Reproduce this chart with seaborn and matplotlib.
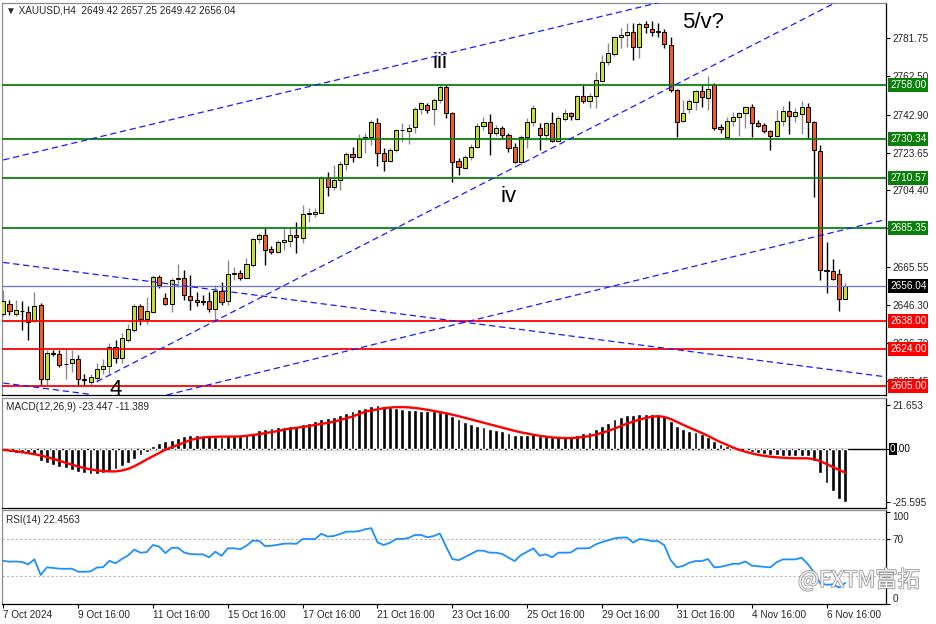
import numpy as np
import matplotlib
matplotlib.use('Agg')
import matplotlib.pyplot as plt
import matplotlib.patheffects as pe
import matplotlib.transforms as mtransforms
import seaborn as sns

sns.set_style('white')
plt.rcParams['font.family'] = ['Liberation Sans', 'DejaVu Sans']

# XAUUSD H4 candles
opens = [2641.5, 2646.7, 2641.6, 2643.3, 2642.8, 2638.2, 2646.2, 2608.4, 2621.5, 2621.2,
         2616.0, 2616.5, 2618.5, 2608.6, 2606.9, 2608.9, 2613.4, 2615.1, 2625.0, 2619.1,
         2628.4, 2633.4, 2645.4, 2639.0, 2642.8, 2660.5, 2649.6, 2646.7, 2659.5, 2659.7,
         2650.9, 2648.7, 2648.4, 2648.2, 2644.0, 2653.3, 2648.2, 2662.0, 2662.3, 2660.1,
         2666.5, 2679.5, 2681.7, 2674.5, 2673.3, 2678.0, 2678.7, 2681.7, 2680.4, 2692.6,
         2692.6, 2693.1, 2710.6, 2706.3, 2709.7, 2717.8, 2722.8, 2721.6, 2730.5, 2731.7,
         2738.8, 2723.6, 2719.4, 2725.0, 2735.0, 2734.8, 2736.5, 2745.6, 2747.7, 2745.6,
         2750.4, 2757.2, 2743.6, 2719.4, 2716.0, 2721.3, 2726.7, 2737.2, 2739.3, 2733.8,
         2736.3, 2732.6, 2726.7, 2719.0, 2731.7, 2739.3, 2736.0, 2732.6, 2738.5, 2729.5,
         2740.7, 2743.6, 2740.7, 2752.4, 2750.0, 2752.6, 2760.0, 2769.9, 2773.8, 2782.2,
         2783.4, 2785.0, 2777.5, 2789.0, 2786.3, 2785.3, 2785.1, 2778.3, 2755.5, 2739.7,
         2745.8, 2749.5, 2755.1, 2751.6, 2758.0, 2736.5, 2731.4, 2739.9, 2741.6, 2743.6,
         2747.0, 2738.9, 2737.7, 2734.6, 2732.3, 2739.9, 2744.8, 2742.2, 2743.3, 2747.0,
         2739.0, 2724.7, 2664.0, 2663.6, 2661.8, 2649.42]
highs = [2653.8, 2648.7, 2648.7, 2648.0, 2645.4, 2652.8, 2647.4, 2623.3, 2623.3, 2623.3,
         2623.6, 2623.3, 2620.7, 2611.1, 2611.1, 2616.5, 2618.5, 2627.0, 2628.4, 2631.8,
         2636.5, 2646.7, 2646.7, 2650.4, 2661.4, 2661.4, 2652.1, 2659.7, 2666.8, 2663.9,
         2661.4, 2652.8, 2651.0, 2652.8, 2656.3, 2658.0, 2669.0, 2665.6, 2664.0, 2669.9,
         2680.0, 2682.9, 2685.1, 2676.0, 2679.0, 2685.1, 2685.1, 2688.5, 2697.0, 2695.3,
         2695.5, 2711.7, 2713.9, 2717.3, 2719.5, 2724.0, 2726.6, 2733.0, 2733.7, 2740.2,
         2741.1, 2725.8, 2726.0, 2735.6, 2738.5, 2738.0, 2747.0, 2749.4, 2748.7, 2751.2,
         2758.0, 2758.0, 2744.4, 2720.7, 2722.5, 2728.0, 2738.5, 2741.9, 2743.3, 2737.8,
         2737.0, 2733.7, 2728.4, 2732.6, 2741.1, 2748.0, 2738.9, 2739.3, 2744.4, 2742.0,
         2746.0, 2744.5, 2753.0, 2758.0, 2753.8, 2764.8, 2773.3, 2779.2, 2783.0, 2786.8,
         2789.7, 2789.4, 2790.2, 2790.7, 2790.7, 2789.4, 2786.7, 2782.6, 2756.0, 2750.4,
         2751.0, 2755.5, 2758.0, 2762.6, 2758.8, 2738.0, 2741.6, 2744.4, 2744.4, 2747.3,
         2748.3, 2740.1, 2738.5, 2735.1, 2745.3, 2747.3, 2750.0, 2746.5, 2750.0, 2748.7,
         2739.7, 2727.5, 2678.3, 2669.4, 2664.3, 2657.25]
lows = [2640.4, 2641.1, 2640.8, 2633.4, 2628.4, 2637.7, 2605.5, 2605.5, 2620.0, 2614.8,
        2608.4, 2612.3, 2605.5, 2605.5, 2605.5, 2607.2, 2611.1, 2611.1, 2616.5, 2616.5,
        2627.5, 2632.6, 2636.0, 2636.5, 2642.0, 2654.7, 2646.2, 2642.8, 2655.5, 2648.7,
        2643.6, 2645.4, 2646.2, 2642.8, 2637.7, 2646.0, 2646.2, 2658.9, 2658.9, 2659.7,
        2665.6, 2677.5, 2666.5, 2672.0, 2672.8, 2674.1, 2675.6, 2672.4, 2677.8, 2688.5,
        2691.0, 2692.8, 2701.6, 2704.6, 2704.6, 2714.6, 2719.0, 2720.7, 2723.3, 2727.5,
        2716.8, 2714.3, 2718.7, 2723.8, 2729.2, 2728.0, 2733.8, 2743.3, 2743.8, 2737.7,
        2748.7, 2741.1, 2708.8, 2712.2, 2715.5, 2720.0, 2725.9, 2735.1, 2722.4, 2732.0,
        2731.0, 2723.8, 2718.5, 2717.3, 2725.8, 2737.0, 2725.0, 2730.0, 2729.2, 2729.0,
        2739.7, 2740.0, 2740.0, 2748.7, 2746.2, 2746.2, 2759.5, 2768.2, 2772.7, 2776.7,
        2777.5, 2770.7, 2771.6, 2784.3, 2783.0, 2782.6, 2777.0, 2754.6, 2731.7, 2739.3,
        2744.0, 2745.3, 2747.0, 2745.3, 2735.1, 2733.4, 2730.9, 2737.2, 2732.1, 2736.0,
        2731.7, 2736.6, 2733.5, 2725.0, 2731.7, 2737.2, 2733.1, 2739.3, 2733.0, 2730.9,
        2701.2, 2658.9, 2652.1, 2658.9, 2643.3, 2649.42]
closes = [2648.3, 2643.2, 2643.5, 2643.0, 2637.7, 2645.9, 2608.4, 2621.6, 2621.0, 2615.6,
          2616.2, 2618.5, 2608.4, 2608.2, 2609.4, 2613.4, 2615.0, 2625.0, 2619.1, 2629.2,
          2633.8, 2645.9, 2639.0, 2643.0, 2660.5, 2656.3, 2646.7, 2658.9, 2659.9, 2651.2,
          2648.7, 2647.5, 2647.9, 2644.0, 2653.3, 2647.9, 2661.8, 2662.4, 2660.1, 2666.8,
          2679.5, 2681.7, 2674.1, 2673.3, 2678.0, 2679.2, 2681.7, 2680.6, 2692.4, 2692.9,
          2693.2, 2710.9, 2706.3, 2709.7, 2717.8, 2722.8, 2721.6, 2730.5, 2731.7, 2739.3,
          2723.3, 2719.4, 2725.0, 2735.1, 2735.3, 2736.4, 2745.6, 2748.7, 2745.3, 2750.4,
          2756.8, 2743.7, 2719.0, 2716.2, 2721.6, 2726.7, 2737.2, 2739.3, 2733.8, 2736.3,
          2732.6, 2726.2, 2719.0, 2731.7, 2739.3, 2746.5, 2732.6, 2738.5, 2729.5, 2741.1,
          2743.6, 2742.4, 2752.4, 2750.0, 2752.6, 2760.5, 2769.8, 2774.1, 2782.3, 2783.4,
          2785.0, 2777.5, 2789.0, 2787.4, 2784.8, 2784.9, 2778.7, 2755.5, 2739.3, 2744.0,
          2750.0, 2755.1, 2751.7, 2755.8, 2736.0, 2735.5, 2739.9, 2741.6, 2744.0, 2747.0,
          2738.5, 2737.2, 2734.6, 2732.3, 2739.9, 2744.8, 2742.2, 2744.4, 2747.0, 2739.3,
          2725.0, 2664.0, 2663.4, 2659.4, 2649.0, 2656.04]

# MACD(12,26,9) histogram and signal line
macd_hist = [-1.0, -1.3, -1.7, -2.0, -2.4, -2.9, -5.5, -6.8, -7.6, -8.5,
             -9.2, -10.0, -11.0, -11.8, -12.2, -12.2, -11.6, -10.6, -9.6, -8.2,
             -6.8, -4.8, -2.7, -1.3, 1.5, 3.0, 3.9, 4.5, 5.6, 6.7,
             7.0, 6.8, 6.5, 6.3, 6.2, 6.2, 6.4, 6.6, 6.7, 6.9,
             8.2, 9.4, 10.0, 10.4, 10.9, 11.1, 11.3, 11.4, 12.3, 13.0,
             13.6, 14.8, 15.5, 16.0, 16.8, 17.6, 18.6, 19.5, 20.3, 21.0,
             21.6, 21.3, 20.6, 20.0, 19.6, 19.3, 19.0, 18.8, 18.6, 18.6,
             18.4, 18.0, 16.4, 14.8, 13.4, 12.2, 11.6, 10.9, 10.1, 9.4,
             8.7, 7.9, 7.0, 6.9, 7.0, 7.4, 6.7, 6.4, 6.0, 5.9,
             6.1, 6.3, 7.2, 7.9, 8.6, 9.9, 11.4, 12.9, 14.6, 15.8,
             16.6, 16.8, 17.4, 17.4, 17.2, 16.9, 16.4, 14.0, 11.5, 9.9,
             8.9, 8.4, 7.5, 6.0, 4.0, 2.6, 1.8, 0.9, 0.2, -0.5,
             -1.1, -1.6, -2.1, -2.7, -3.0, -3.3, -3.4, -3.4, -3.2, -3.5,
             -5.5, -11.7, -16.6, -20.2, -24.4, -25.6]
macd_signal = [-0.3, -0.6, -1.0, -1.4, -1.9, -2.4, -3.0, -3.8, -4.7, -5.6,
               -6.6, -7.5, -8.4, -9.2, -9.8, -10.3, -10.6, -10.8, -10.8, -10.4,
               -9.6, -8.3, -6.7, -5.0, -3.4, -1.8, -0.2, 1.1, 2.1, 3.3,
               4.5, 5.3, 5.8, 6.0, 6.1, 6.2, 6.2, 6.2, 6.3, 6.6,
               7.0, 7.4, 7.9, 8.4, 8.9, 9.6, 10.1, 10.5, 10.9, 11.4,
               11.9, 12.4, 12.9, 13.5, 14.3, 15.2, 16.0, 17.2, 18.4, 19.0,
               19.5, 20.1, 20.4, 20.6, 20.6, 20.5, 20.2, 19.8, 19.3, 18.8,
               18.2, 17.6, 16.9, 16.2, 15.4, 14.6, 13.8, 13.0, 12.2, 11.4,
               10.6, 9.8, 9.0, 8.3, 7.7, 7.1, 6.6, 6.2, 5.8, 5.6,
               5.5, 5.5, 5.7, 6.0, 6.5, 7.2, 8.0, 9.0, 10.1, 11.3,
               12.5, 13.6, 14.5, 15.3, 15.9, 16.2, 15.8, 14.8, 13.4, 12.0,
               10.6, 9.3, 8.0, 6.6, 5.0, 3.5, 2.2, 0.9, -0.3, -1.2,
               -2.0, -2.7, -3.2, -3.6, -3.9, -4.1, -4.3, -4.4, -4.4, -4.4,
               -4.8, -5.8, -7.2, -8.7, -10.1, -11.4]

# RSI(14)
rsi = [46.5, 45.6, 45.8, 45.3, 42.7, 48.2, 31.1, 39.4, 38.8, 38.0,
       37.8, 38.0, 34.7, 34.6, 35.0, 39.2, 39.6, 46.5, 43.8, 48.5,
       52.3, 58.8, 55.4, 56.0, 63.8, 62.0, 55.0, 60.6, 60.8, 55.6,
       53.9, 53.6, 53.6, 50.4, 56.5, 52.0, 60.1, 60.2, 59.1, 63.0,
       68.5, 68.3, 62.5, 63.0, 64.0, 65.2, 65.4, 65.0, 70.3, 70.3,
       70.3, 76.0, 73.0, 73.6, 75.8, 78.3, 78.3, 78.8, 80.9, 82.1,
       66.7, 63.8, 66.2, 70.3, 70.3, 71.5, 74.7, 74.7, 72.2, 73.5,
       76.3, 62.0, 48.5, 47.2, 50.5, 54.0, 57.6, 57.6, 55.4, 55.4,
       54.0, 50.0, 46.3, 52.8, 56.5, 60.1, 52.1, 53.6, 50.4, 55.4,
       55.4, 55.6, 60.1, 60.1, 60.4, 64.5, 67.0, 68.9, 71.0, 71.8,
       72.0, 66.4, 70.3, 69.5, 68.0, 68.0, 63.5, 47.4, 39.4, 41.0,
       44.5, 46.3, 46.3, 48.5, 39.4, 40.0, 41.5, 43.3, 43.3, 45.8,
       41.3, 40.6, 40.0, 39.4, 45.0, 48.1, 48.1, 48.1, 50.0, 43.0,
       34.0, 22.0, 20.5, 20.8, 17.5, 22.5]

time_tick_bars = [0, 12, 24, 36, 48, 60, 72, 84, 96, 108, 120, 132]
time_tick_labels = ['7 Oct 2024', '9 Oct 16:00', '11 Oct 16:00', '15 Oct 16:00',
                    '17 Oct 16:00', '21 Oct 16:00', '23 Oct 16:00', '25 Oct 16:00',
                    '29 Oct 16:00', '31 Oct 16:00', '4 Nov 16:00', '6 Nov 16:00']
price_ticks = [2781.75, 2762.50, 2742.90, 2723.65, 2704.40, 2685.35,
               2665.55, 2646.30, 2626.70, 2607.45]
green_levels = [2758.00, 2730.34, 2710.57, 2685.35]
red_levels = [2638.00, 2624.00, 2605.00]
last_price = 2656.04

# trend lines as (bar, price) end points
trend_lines = [((0, 2719.9), (110, 2803.6)),
               ((20, 2595.6), (141.6, 2689.7)),
               ((15, 2607.2), (134, 2800.8)),
               ((0, 2667.8), (141.6, 2609.6)),
               ((0, 2606.5), (14, 2600.7))]
wave_labels = [('iii', 70, 2769.7), ('iv', 81, 2701.1), ('5/v?', 112.2, 2790.0)]

BULL = '#c8dc3c'
BEAR = '#f45a24'
GREEN = '#0a800a'
RED = '#ff0000'
TREND = '#1a1aff'
FS = 7.2

bars = np.arange(len(opens))
o, h, l, c = map(np.array, (opens, highs, lows, closes))

W, H = 936, 624
def rect(x0, y0, x1, y1):
    return [x0 / W, 1 - y1 / H, (x1 - x0) / W, (y1 - y0) / H]

fig = plt.figure(figsize=(9.36, 6.24), dpi=100)
ax_p = fig.add_axes(rect(2, 3, 886, 395))
ax_m = fig.add_axes(rect(2, 398, 886, 508))
ax_r = fig.add_axes(rect(2, 510, 886, 604))

xmin = -0.2
xmax = xmin + 884 / 6.237
for ax in (ax_p, ax_m, ax_r):
    ax.set_xlim(xmin, xmax)
    ax.yaxis.tick_right()
    ax.tick_params(axis='y', which='both', left=False, right=True, length=3, width=0.8,
                   pad=1.5, labelsize=FS, direction='out', color='black')
    for side, sp in ax.spines.items():
        sp.set_linewidth(0.9)
        sp.set_color('black' if side in ('right', 'bottom') else '#8c8c8c')
        sp.set_visible(True)

# ---- price panel ----
bull = c >= o
body_lo = np.minimum(o, c)
body_h = np.maximum(np.abs(c - o), 0.35)
ax_p.vlines(bars, l, h, colors=np.where(bull, '#8a8a8a', 'black'), lw=1, zorder=2)
ax_p.bar(bars, body_h, bottom=body_lo, width=0.66, color=np.where(bull, BULL, BEAR),
         edgecolor='black', linewidth=0.7, zorder=3)

for lv in green_levels:
    ax_p.axhline(lv, color=GREEN, lw=1.3, zorder=4)
for lv in red_levels:
    ax_p.axhline(lv, color=RED, lw=1.3, zorder=4)
ax_p.axhline(last_price, color='#6e6ed8', lw=0.9, zorder=4)

for (x0, y0), (x1, y1) in trend_lines:
    ax_p.plot([x0, x1], [y0, y1], color=TREND, lw=0.9, ls=(0, (5, 3)), zorder=4)

for txt, bx, py in wave_labels:
    ax_p.text(bx, py, txt, fontsize=16, ha='center', va='center', color='black', zorder=6)
ax_p.text(18, 2608.5, '4', fontsize=16, ha='center', va='top', color='black',
          zorder=6, clip_on=True)

ax_p.set_ylim(2600.4, 2799.7)
ax_p.set_yticks(price_ticks)
# the 2685.35 tick label sits fully under the level box of the same value
ax_p.set_yticklabels(['' if v in green_levels else f'{v:.2f}' for v in price_ticks])
ax_p.set_xticks([])

trans_p = mtransforms.blended_transform_factory(ax_p.transAxes, ax_p.transData)
for lv, col in [(v, GREEN) for v in green_levels] + [(v, RED) for v in red_levels] + \
        [(last_price, 'black')]:
    ax_p.text(1.0045, lv, f'{lv:.2f}', transform=trans_p, ha='left', va='center',
              color='white', fontsize=FS, clip_on=False, zorder=10,
              bbox=dict(boxstyle='square,pad=0.2', fc=col, ec='none'))

ax_p.text(0.0045, 0.982, '\u25bc XAUUSD,H4  2649.42 2657.25 2649.42 2656.04',
          transform=ax_p.transAxes, fontsize=FS, ha='left', va='center', zorder=10)

# ---- MACD panel ----
ax_m.axhline(0, color='black', lw=1, zorder=1)
ax_m.bar(bars, macd_hist, width=0.62, color='black', zorder=2)
sns.lineplot(x=bars, y=macd_signal, ax=ax_m, color='red', lw=1.7, zorder=3, legend=False)
ax_m.set_ylim(-28.7, 25.07)
ax_m.set_yticks([21.653, 0, -25.595])
ax_m.set_yticklabels(['21.653', '', '-25.595'])
ax_m.set_xticks([])
ax_m.set_xlabel('')
ax_m.set_ylabel('')
trans_m = mtransforms.blended_transform_factory(ax_m.transAxes, ax_m.transData)
ax_m.text(1.0045, 0, '0', transform=trans_m, ha='left', va='center', color='white',
          fontsize=FS, clip_on=False, bbox=dict(boxstyle='square,pad=0.1', fc='black', ec='none'))
ax_m.text(1.0045 + 6.5 / 884, 0, '.00', transform=trans_m, ha='left', va='center',
          color='black', fontsize=FS, clip_on=False)
ax_m.text(0.0045, 0.918, 'MACD(12,26,9) -23.447 -11.389', transform=ax_m.transAxes,
          fontsize=FS, ha='left', va='center')

# ---- RSI panel ----
for lv in (70, 30):
    ax_r.axhline(lv, color='#b4b4b4', lw=0.8, ls=(0, (2, 2)), zorder=1)
sns.lineplot(x=bars, y=rsi, ax=ax_r, color='#1e8fff', lw=1.3, zorder=3, legend=False)
ax_r.set_ylim(-0.5, 101.9)
ax_r.set_yticks([100, 70, 0])
ax_r.set_yticklabels(['100', '70', '0'])
ylabs = ax_r.get_yticklabels()
ylabs[0].set_va('top')
ylabs[2].set_va('bottom')
ax_r.set_xlabel('')
ax_r.set_ylabel('')
ax_r.set_xticks(time_tick_bars)
ax_r.set_xticklabels(time_tick_labels, ha='left')
ax_r.tick_params(axis='x', bottom=True, length=3, width=0.8, pad=1.5, labelsize=FS,
                 direction='out', color='black')
ax_r.text(0.0045, 0.894, 'RSI(14) 22.4563', transform=ax_r.transAxes,
          fontsize=FS, ha='left', va='center')

# watermark
fig.text(798 / W, 1 - 580 / H, '@FXTM富拓', fontsize=16, color='#f4f4f4',
         family=['Noto Sans CJK SC', 'DejaVu Sans'], ha='left', va='center', zorder=20,
         path_effects=[pe.withStroke(linewidth=1.2, foreground='#9a9a9a')])

fig.savefig('out.png', dpi=100)
